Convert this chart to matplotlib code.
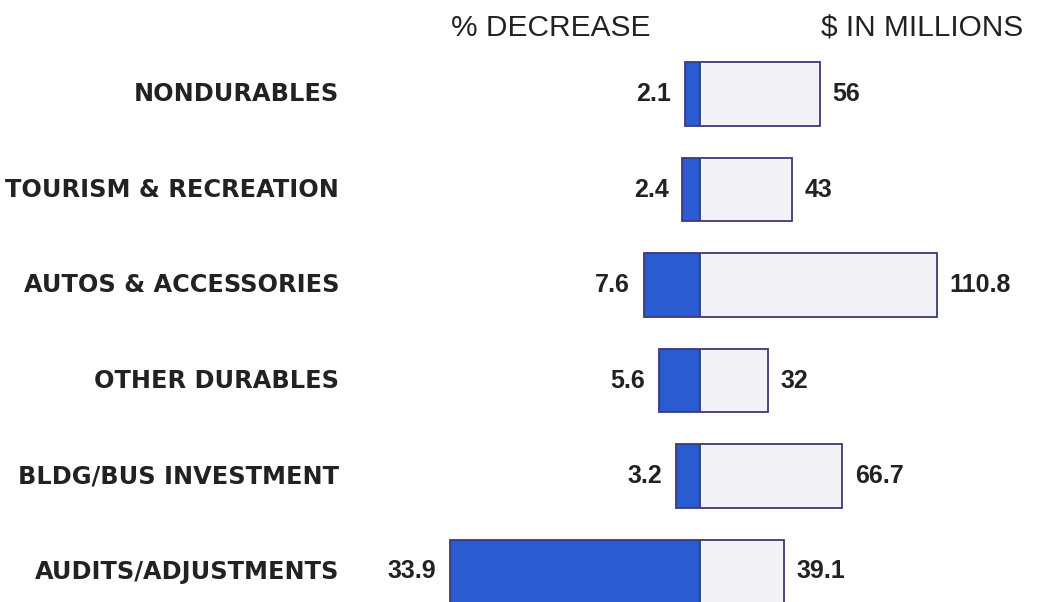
import matplotlib
matplotlib.use("Agg")
import matplotlib.pyplot as plt
from matplotlib.transforms import blended_transform_factory

categories = ["NONDURABLES", "TOURISM & RECREATION", "AUTOS & ACCESSORIES",
              "OTHER DURABLES", "BLDG/BUS INVESTMENT", "AUDITS/ADJUSTMENTS"]
pct_decrease = [2.1, 2.4, 7.6, 5.6, 3.2, 33.9]
pct_labels = ["2.1", "2.4", "7.6", "5.6", "3.2", "33.9"]
dollars_millions = [56, 43, 110.8, 32, 66.7, 39.1]
dollar_labels = ["56", "43", "110.8", "32", "66.7", "39.1"]
header_left = "% DECREASE"
header_right = "$ IN MILLIONS"

W, H = 1039, 602
fig = plt.figure(figsize=(W / 100, H / 100), dpi=100)
fig.patch.set_facecolor("white")

center_px = 700
left_scale = 7.38    # px per percent
right_scale = 2.136  # px per million
row0_px, row_step = 94, 95.5

axL = fig.add_axes([0, 0, center_px / W, 1])
axR = fig.add_axes([center_px / W, 0, (W - center_px) / W, 1])
ytop = -row0_px / row_step
ybot = (H - row0_px) / row_step
for ax in (axL, axR):
    ax.set_ylim(ybot, ytop)
    ax.axis("off")
axL.set_xlim(center_px / left_scale, 0)
axR.set_xlim(0, (W - center_px) / right_scale)

blue = "#2a5bd0"
navy = "#3a3a7a"
light = "#f2f2f7"
ypos = list(range(len(categories)))
bh = 0.67

axL.barh(ypos, pct_decrease, height=bh, color=blue, edgecolor=navy, linewidth=1.3)
axR.barh(ypos, dollars_millions, height=bh, color=light, edgecolor=navy, linewidth=1.3)

font = "Liberation Sans"
txt = "#222222"
for i in ypos:
    axL.annotate(pct_labels[i], xy=(pct_decrease[i], i), xytext=(-10, 0),
                 textcoords="offset points", ha="right", va="center",
                 fontsize=18, fontweight="bold", family=font, color=txt)
    axR.annotate(dollar_labels[i], xy=(dollars_millions[i], i), xytext=(9, 0),
                 textcoords="offset points", ha="left", va="center",
                 fontsize=18, fontweight="bold", family=font, color=txt)

tr = blended_transform_factory(fig.transFigure, axL.transData)
for i, c in zip(ypos, categories):
    axL.text(339 / W, i, c, transform=tr, ha="right", va="center",
             fontsize=17.3, fontweight="bold", family="DejaVu Sans", color=txt)

fig.text(551 / W, 1 - 28 / H, header_left, ha="center", va="center",
         fontsize=21.5, family=font, color=txt)
fig.text(922 / W, 1 - 28 / H, header_right, ha="center", va="center",
         fontsize=21.5, family=font, color=txt)

fig.savefig("out.png", dpi=100, facecolor="white")
